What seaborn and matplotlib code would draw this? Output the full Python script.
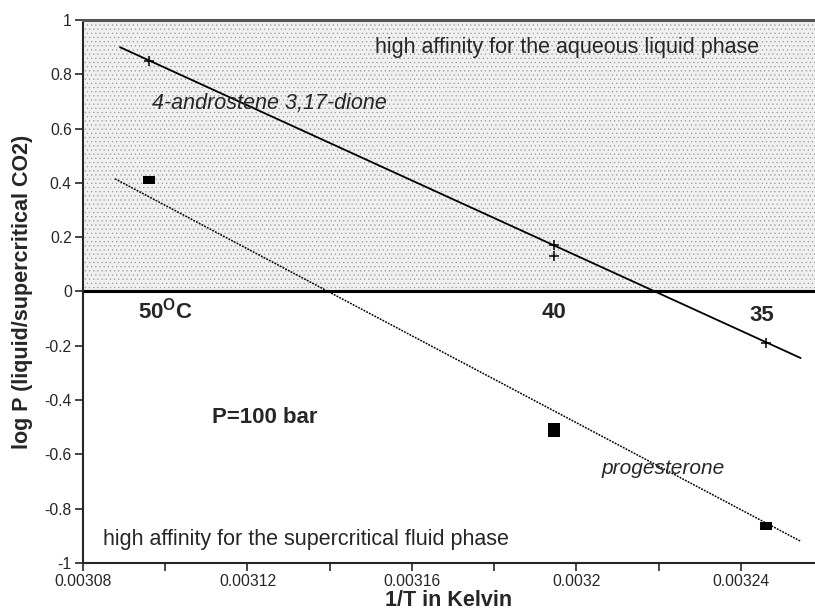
import numpy as np
import pandas as pd
import matplotlib
matplotlib.use("Agg")
import matplotlib.pyplot as plt
import seaborn as sns

# measured points (1/T, log P)
andro_x = [0.003096, 0.0031946, 0.0031946, 0.003246]
andro_y = [0.85, 0.17, 0.13, -0.19]
prog_x = [0.003096, 0.0031946, 0.0031946, 0.003246]
prog_y = [0.41, -0.50, -0.52, -0.865]

# fitted lines (end points)
andro_fit_x = [0.003089, 0.0032545]
andro_fit_y = [0.90, -0.245]
prog_fit_x = [0.0030878, 0.0032545]
prog_fit_y = [0.415, -0.92]

xticks = [0.00308, 0.00312, 0.00316, 0.0032, 0.00324]
xtick_labels = ["0.00308", "0.00312", "0.00316", "0.0032", "0.00324"]
yticks = [-1, -0.8, -0.6, -0.4, -0.2, 0, 0.2, 0.4, 0.6, 0.8, 1]
ytick_labels = ["-1", "-0.8", "-0.6", "-0.4", "-0.2", "0", "0.2", "0.4", "0.6", "0.8", "1"]

sns.set_style("ticks")
plt.rcParams['font.family'] = ['Liberation Sans', 'DejaVu Sans']
plt.rcParams['mathtext.fontset'] = 'custom'
plt.rcParams['mathtext.bf'] = 'Liberation Sans:bold'
plt.rcParams['hatch.linewidth'] = 0.4

fig = plt.figure(figsize=(8.15, 6.14), dpi=100)
ax = fig.add_axes([0.1018, 0.0831, 0.8982, 0.8843])

ax.set_xlim(0.00308, 0.003258)
ax.set_ylim(-1, 1)

# shaded region: high affinity for aqueous phase
ax.axhspan(0, 1, facecolor="#f0f0f0", edgecolor="#999999", hatch="....", lw=0, zorder=0)
ax.axhline(0, color="black", lw=2.2, zorder=2)

df_a = pd.DataFrame({"x": andro_fit_x, "y": andro_fit_y})
df_p = pd.DataFrame({"x": prog_fit_x, "y": prog_fit_y})
sns.lineplot(data=df_a, x="x", y="y", color="black", lw=1.3, ax=ax)
sns.lineplot(data=df_p, x="x", y="y", color="black", lw=1.1, ax=ax)
ax.lines[-1].set_linestyle((0, (1.2, 0.8)))

rect = [(-1, -0.7), (1, -0.7), (1, 0.7), (-1, 0.7)]
sns.scatterplot(x=andro_x, y=andro_y, marker="+", s=50, color="black", linewidth=1.1, ax=ax, zorder=4)
sns.scatterplot(x=prog_x, y=prog_y, marker=rect, s=70, color="black", edgecolor="black", linewidth=0, ax=ax, zorder=4)

ax.set_xticks(xticks)
ax.set_xticklabels(xtick_labels, fontsize=11.3)
ax.set_xticks([0.0031, 0.00314, 0.00318, 0.00322], minor=True)
ax.set_yticks(yticks)
ax.set_yticklabels(ytick_labels, fontsize=11.3)
ax.tick_params(axis="both", which="major", length=6, width=1.2, direction="out", pad=2)
ax.tick_params(axis="x", which="minor", length=6, width=1.2, direction="out")

for s in ["left", "bottom"]:
    ax.spines[s].set_linewidth(1.5)
ax.spines["top"].set_visible(True)
ax.spines["top"].set_color("#555555")
ax.spines["top"].set_linewidth(2.2)
ax.spines["right"].set_visible(False)

ax.set_xlabel("1/T in Kelvin", fontsize=15.5, fontweight="bold", labelpad=1)
ax.set_ylabel("log P (liquid/supercritical CO2)", fontsize=15.5, fontweight="bold", labelpad=8)

ax.text(0.0031509, 0.897, "high affinity for the aqueous liquid phase", fontsize=15.5, va="center")
ax.text(0.0030968, 0.691, "4-androstene 3,17-dione", fontsize=15.5, style="italic", va="center")
ax.text(0.0030934, -0.099, "50$^{\\mathbf{O}}$C", fontsize=16, fontweight="bold", va="baseline")
ax.text(0.0031946, -0.099, "40", fontsize=16, fontweight="bold", va="baseline", ha="center")
ax.text(0.003245, -0.107, "35", fontsize=16, fontweight="bold", va="baseline", ha="center")
ax.text(0.0031113, -0.463, "P=100 bar", fontsize=16, fontweight="bold", va="center")
ax.text(0.0032062, -0.651, "progesterone", fontsize=15, style="italic", va="center")
ax.text(0.0030849, -0.915, "high affinity for the supercritical fluid phase", fontsize=15.5, va="center")

fig.savefig("out.png", dpi=100)
